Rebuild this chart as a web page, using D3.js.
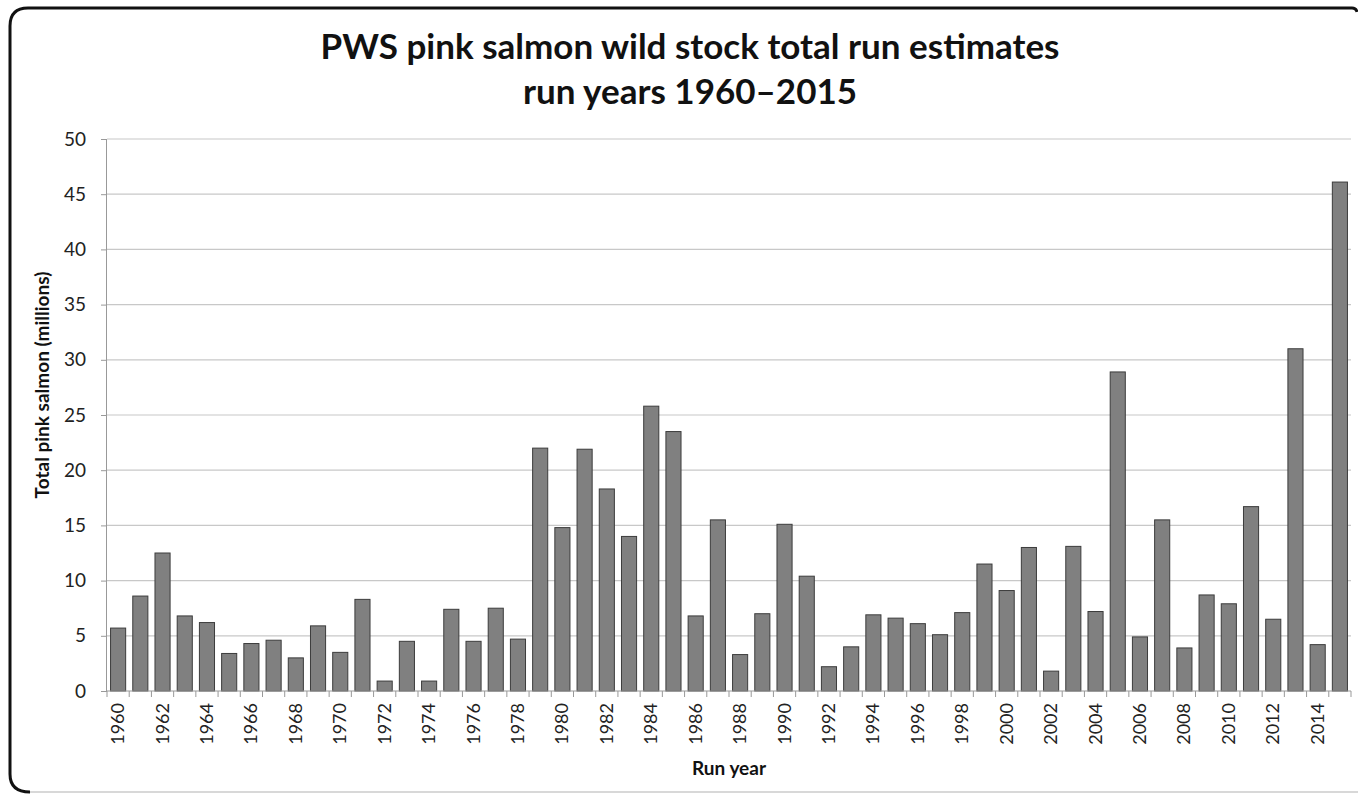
<!DOCTYPE html>
<html>
<head>
<meta charset="utf-8">
<script src="https://cdn.jsdelivr.net/npm/d3@7"></script>
<style>
  body { margin: 0; background: #fff; }
  svg { display: block; font-family: Lato, "Open Sans", sans-serif; }
</style>
</head>
<body>
<svg id="chart" width="1358" height="794"></svg>
<script>
const years = d3.range(1960, 2016);
const runs = [
  5.7, 8.6, 12.5, 6.8, 6.2, 3.4, 4.3, 4.6, 3.0, 5.9,
  3.5, 8.3, 0.9, 4.5, 0.9, 7.4, 4.5, 7.5, 4.7, 22.0,
  14.8, 21.9, 18.3, 14.0, 25.8, 23.5, 6.8, 15.5, 3.3, 7.0,
  15.1, 10.4, 2.2, 4.0, 6.9, 6.6, 6.1, 5.1, 7.1, 11.5,
  9.1, 13.0, 1.8, 13.1, 7.2, 28.9, 4.9, 15.5, 3.9, 8.7,
  7.9, 16.7, 6.5, 31.0, 4.2, 46.1
];
const yTicks = [0, 5, 10, 15, 20, 25, 30, 35, 40, 45, 50];
const titleLines = ["PWS pink salmon wild stock total run estimates", "run years 1960\u20132015"];

const width = 1358, height = 794;
const margin = { top: 139, right: 7, bottom: 103, left: 107 };

const svg = d3.select("#chart");

// frame: dark top/left, light bottom
svg.append("line")
  .attr("x1", 28).attr("x2", 1358).attr("y1", 792).attr("y2", 792)
  .attr("stroke", "#d8d8d8").attr("stroke-width", 2);
svg.append("path")
  .attr("d", "M30,792 Q10,792 10,774 L10,26 Q10,8 28,8 L1352,8 Q1356,8 1357,12")
  .attr("fill", "none").attr("stroke", "#111").attr("stroke-width", 3);

const x = d3.scaleBand()
  .domain(years)
  .range([margin.left, width - margin.right])
  .paddingInner(0.32)
  .paddingOuter(0.16);

const y = d3.scaleLinear()
  .domain([0, 50])
  .range([height - margin.bottom, margin.top]);

// gridlines
svg.append("g")
  .selectAll("line")
  .data(yTicks.slice(1))
  .join("line")
    .attr("x1", margin.left).attr("x2", width - margin.right)
    .attr("y1", d => y(d)).attr("y2", d => y(d))
    .attr("stroke", "#c8c8c8").attr("stroke-width", 1.2);

// bars
svg.append("g")
  .selectAll("rect")
  .data(runs)
  .join("rect")
    .attr("x", (d, i) => x(years[i]))
    .attr("y", d => y(d))
    .attr("width", x.bandwidth())
    .attr("height", d => y(0) - y(d))
    .attr("fill", "#808080")
    .attr("stroke", "#3c3c3c")
    .attr("stroke-width", 1);

// y axis
const yAxis = svg.append("g")
  .attr("transform", `translate(${margin.left},0)`)
  .call(d3.axisLeft(y).tickValues(yTicks).tickSize(6).tickPadding(15));
yAxis.select(".domain").attr("stroke", "#999").attr("d", `M-0.5,${y(0)}V${y(50)}`);
yAxis.selectAll(".tick line").attr("stroke", "#999");
yAxis.selectAll("text").attr("font-size", 19).attr("fill", "#222")
  .attr("font-family", "Lato, 'Open Sans', sans-serif");

// x axis: ticks between categories
const step = x.step();
const xg = svg.append("g");
xg.append("line")
  .attr("x1", margin.left).attr("x2", width - margin.right)
  .attr("y1", y(0)).attr("y2", y(0))
  .attr("stroke", "#999");
xg.selectAll(".sep")
  .data(d3.range(years.length + 1))
  .join("line")
    .attr("x1", i => margin.left + i * step)
    .attr("x2", i => margin.left + i * step)
    .attr("y1", y(0)).attr("y2", y(0) + 6)
    .attr("stroke", "#999");
xg.selectAll(".lbl")
  .data(years.filter(d => d % 2 === 0))
  .join("text")
    .attr("transform", d => `translate(${x(d) + x.bandwidth() / 2 + 6},${y(0) + 12}) rotate(-90)`)
    .attr("text-anchor", "end")
    .attr("font-size", 18)
    .attr("fill", "#222")
    .text(d => d);

// title
svg.append("g")
  .selectAll("text")
  .data(titleLines)
  .join("text")
    .attr("x", 690)
    .attr("y", (d, i) => 59 + i * 45)
    .attr("text-anchor", "middle")
    .attr("font-size", 35)
    .attr("font-weight", "bold")
    .attr("fill", "#111")
    .text(d => d);

// axis titles
svg.append("text")
  .attr("transform", `translate(49,385) rotate(-90)`)
  .attr("text-anchor", "middle")
  .attr("font-size", 19).attr("font-weight", "bold").attr("fill", "#111")
  .text("Total pink salmon (millions)");

svg.append("text")
  .attr("x", 729).attr("y", 775)
  .attr("text-anchor", "middle")
  .attr("font-size", 19).attr("font-weight", "bold").attr("fill", "#111")
  .text("Run year");
</script>
</body>
</html>
